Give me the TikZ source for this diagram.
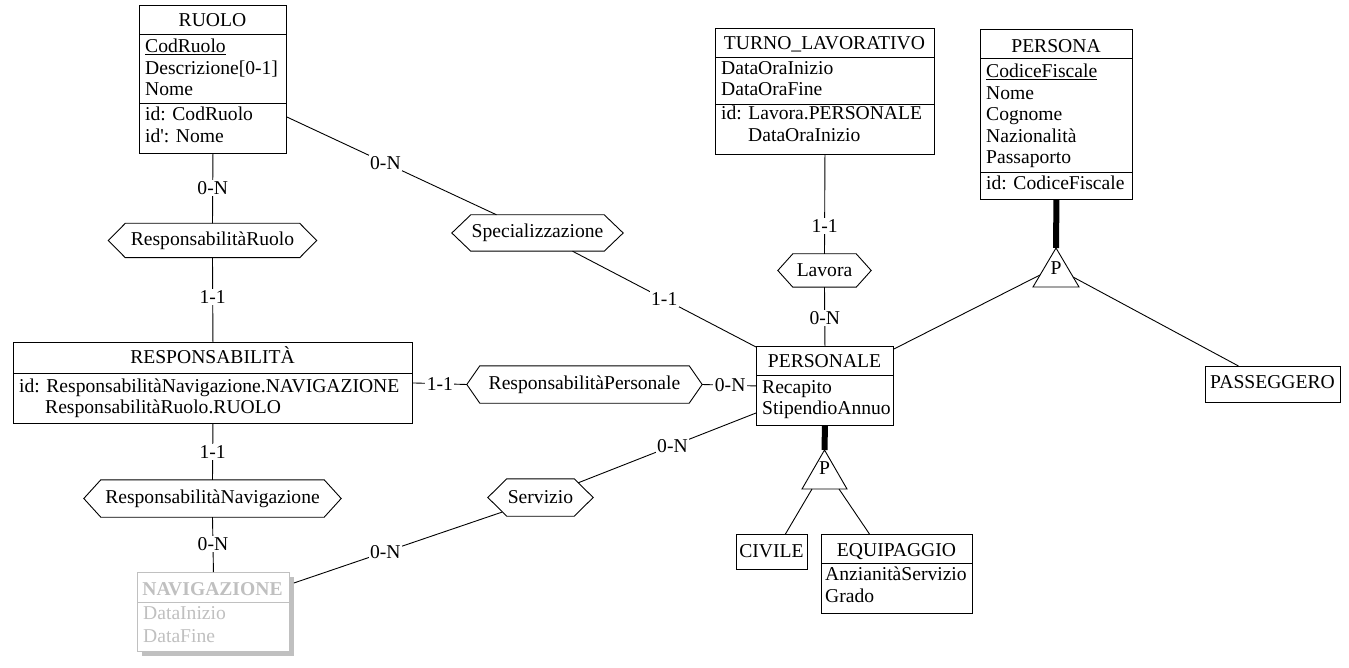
\documentclass[tikz,border=0pt]{standalone}
\usepackage{fontspec}
\setmainfont{Liberation Serif}[Ligatures=TeXOff]
\usetikzlibrary{calc}
\definecolor{navgray}{RGB}{192,192,192}
\newcommand\erfont{\fontsize{19.6}{22}\selectfont}
\tikzset{
  ent/.style={draw, line width=0.9pt, inner sep=0, anchor=north west, fill=white},
  conn/.style={line width=0.9pt},
  attr/.style={anchor=base west, inner sep=0},
  ttl/.style={anchor=base, inner sep=0},
  card/.style={fill=white, inner sep=1.5pt},
  hexn/.style={inner sep=0},
  isaline/.style={line width=6pt},
  every node/.append style={font=\erfont},
}
\newcommand\hexdraw[2]{\draw[conn] (#1.west) -- ([xshift=#2pt]#1.north west) -- ([xshift=-#2pt]#1.north east) -- (#1.east) -- ([xshift=-#2pt]#1.south east) -- ([xshift=#2pt]#1.south west) -- cycle;}
\begin{document}
\begin{tikzpicture}[x=1pt,y=-1pt]
\useasboundingbox (0,0) rectangle (1349,668);

% ---------- RUOLO ----------
\node[ent, minimum width=147, minimum height=148] (ruolo) at (139,5) {};
\draw[conn] (ruolo.west |- 0,34) -- (ruolo.east |- 0,34);
\draw[conn] (ruolo.west |- 0,103) -- (ruolo.east |- 0,103);
\node[ttl] (ruolo-t) at (212.5,27) {RUOLO};
\node[attr] (ruolo-a1) at (145,53) {\underline{CodRuolo}};
\node[attr] (ruolo-a2) at (145,75) {Descrizione[0-1]};
\node[attr] (ruolo-a3) at (145,96) {Nome};
\node[attr] (ruolo-i1) at (145,121) {id: CodRuolo};
\node[attr] (ruolo-i2) at (145,143) {id': Nome};

% ---------- TURNO_LAVORATIVO ----------
\node[ent, minimum width=219, minimum height=126] (turno) at (715,28) {};
\draw[conn] (turno.west |- 0,57) -- (turno.east |- 0,57);
\draw[conn] (turno.west |- 0,104) -- (turno.east |- 0,104);
\node[ttl] (turno-t) at (824.5,50) {TURNO\_LAVORATIVO};
\node[attr] (turno-a1) at (721,75) {DataOraInizio};
\node[attr] (turno-a2) at (721,96) {DataOraFine};
\node[attr] (turno-i1) at (721,120) {id: Lavora.PERSONALE};
\node[attr] (turno-i2) at (748,142) {DataOraInizio};

% ---------- PERSONA ----------
\node[ent, minimum width=152, minimum height=170] (persona) at (980,29) {};
\draw[conn] (persona.west |- 0,58) -- (persona.east |- 0,58);
\draw[conn] (persona.west |- 0,172) -- (persona.east |- 0,172);
\node[ttl] (persona-t) at (1056,53) {PERSONA};
\node[attr] (persona-a1) at (986,78) {\underline{CodiceFiscale}};
\node[attr] (persona-a2) at (986,99.5) {Nome};
\node[attr] (persona-a3) at (986,121) {Cognome};
\node[attr] (persona-a4) at (986,142.5) {Nazionalità};
\node[attr] (persona-a5) at (986,164) {Passaporto};
\node[attr] (persona-i1) at (986,190) {id: CodiceFiscale};

% ---------- PERSONALE ----------
\node[ent, minimum width=137, minimum height=79] (personale) at (756,346) {};
\draw[conn] (personale.west |- 0,375) -- (personale.east |- 0,375);
\node[ttl] (personale-t) at (824.5,367) {PERSONALE};
\node[attr] (personale-a1) at (762,393) {Recapito};
\node[attr] (personale-a2) at (762,414) {StipendioAnnuo};

% ---------- EQUIPAGGIO ----------
\node[ent, minimum width=151, minimum height=79] (equip) at (821,534) {};
\draw[conn] (equip.west |- 0,563) -- (equip.east |- 0,563);
\node[ttl] (equip-t) at (896.5,556) {EQUIPAGGIO};
\node[attr] (equip-a1) at (825,580) {AnzianitàServizio};
\node[attr] (equip-a2) at (825,602) {Grado};

% ---------- CIVILE ----------
\node[ent, minimum width=71, minimum height=35] (civile) at (736,534) {};
\node[ttl] (civile-t) at (771.5,557) {CIVILE};

% ---------- PASSEGGERO ----------
\node[ent, minimum width=135, minimum height=36] (passeggero) at (1205,366) {};
\node[ttl] (passeggero-t) at (1272.5,388) {PASSEGGERO};

% ---------- RESPONSABILITA ----------
\node[ent, minimum width=399, minimum height=81] (resp) at (13,342) {};
\draw[conn] (resp.west |- 0,373) -- (resp.east |- 0,373);
\node[ttl] (resp-t) at (212.5,363) {RESPONSABILITÀ};
\node[attr] (resp-i1) at (19,392) {id: ResponsabilitàNavigazione.NAVIGAZIONE};
\node[attr] (resp-i2) at (45,413) {ResponsabilitàRuolo.RUOLO};

% ---------- NAVIGAZIONE (grey) ----------
\fill[navgray] (142,577) rectangle (294,656);
\node[ent, draw=navgray, minimum width=152, minimum height=79] (nav) at (137,572) {};
\draw[conn, navgray] (nav.west |- 0,602) -- (nav.east |- 0,602);
\node[ttl, text=navgray] (nav-t) at (212.5,595) {\bfseries NAVIGAZIONE};
\node[attr, text=navgray] (nav-a1) at (143,619) {DataInizio};
\node[attr, text=navgray] (nav-a2) at (143,642) {DataFine};

% ---------- relationships ----------
\node[hexn, minimum width=208, minimum height=34] (rr) at (212.5,240.5) {ResponsabilitàRuolo};
\hexdraw{rr}{17}
\node[hexn, minimum width=171, minimum height=36] (spec) at (537.5,233) {Specializzazione};
\hexdraw{spec}{19}
\node[hexn, minimum width=93, minimum height=33] (lavora) at (824.5,270.5) {Lavora};
\hexdraw{lavora}{15}
\node[hexn, minimum width=235, minimum height=37] (rp) at (584.5,384.5) {ResponsabilitàPersonale};
\hexdraw{rp}{13}
\node[hexn, minimum width=257, minimum height=37] (rn) at (212.5,498.5) {ResponsabilitàNavigazione};
\hexdraw{rn}{17}
\node[hexn, minimum width=105, minimum height=37] (servizio) at (540.5,497.5) {Servizio};
\hexdraw{servizio}{19}

% ---------- connectors ----------
\draw[conn] (ruolo.south) -- node[card, pos=0.49] (c1) {0-N} (rr.north);
\draw[conn] (rr.south) -- node[card, pos=0.47] (c2) {1-1} (resp.north);
\draw[conn] (resp.south) -- node[card, pos=0.51] (c3) {1-1} (rn.north);
\draw[conn] (rn.south) -- node[card, pos=0.49] (c4) {0-N} (nav.north);
\draw[conn] (ruolo.east |- 0,117) -- node[card, pos=0.47] (c5) {0-N} ($(spec.north)+(-41,0)$);
\draw[conn] ($(spec.south)+(35,0)$) -- node[card, pos=0.5] (c6) {1-1} ($(personale.north west)+(0,1)$);
\draw[conn] (turno.south) -- node[card, pos=0.72] (c7) {1-1} (lavora.north);
\draw[conn] (lavora.south) -- node[card, pos=0.53] (c8) {0-N} (personale.north);
\draw[conn] (resp.east) -- node[card, pos=0.5] (c9) {1-1} (rp.west);
\draw[conn] (rp.east) -- node[card, pos=0.52] (c10) {0-N} (personale.west);
\draw[conn] ($(personale.north west)+(0,67)$) -- node[card, pos=0.47] (c11) {0-N} ($(servizio.north east)+(-15,4)$);
\draw[conn] ($(servizio.south west)+(14,-4)$) -- node[card, pos=0.56] (c12) {0-N} ($(nav.north east)+(4,11)$);

% ---------- ISA: PERSONA ----------
\coordinate (isa1) at (1056,248);
\draw[conn] (isa1) -- (1079,287) -- (1033,287) -- cycle;
\node[inner sep=0] (isa1-p) at (1056,268) {P};
\draw[isaline] (persona.south) -- (isa1);
\coordinate (isa1l) at (1040,275);
\coordinate (isa1r) at (1073,277);
\draw[conn] (isa1l) -- ($(personale.north east)+(0,3)$);
\draw[conn] (isa1r) -- ($(passeggero.north)+(-34.5,0)$);

% ---------- ISA: PERSONALE ----------
\coordinate (isa2) at (824.5,450);
\draw[conn] (isa2) -- (847,489) -- (802,489) -- cycle;
\node[inner sep=0] (isa2-p) at (824.5,468) {P};
\draw[isaline] (personale.south) -- (isa2);
\coordinate (isa2l) at (812,489);
\coordinate (isa2r) at (839,489);
\draw[conn] (isa2l) -- ($(civile.north)+(13.5,0)$);
\draw[conn] (isa2r) -- ($(equip.north)+(-27.5,0)$);
\end{tikzpicture}
\end{document}
